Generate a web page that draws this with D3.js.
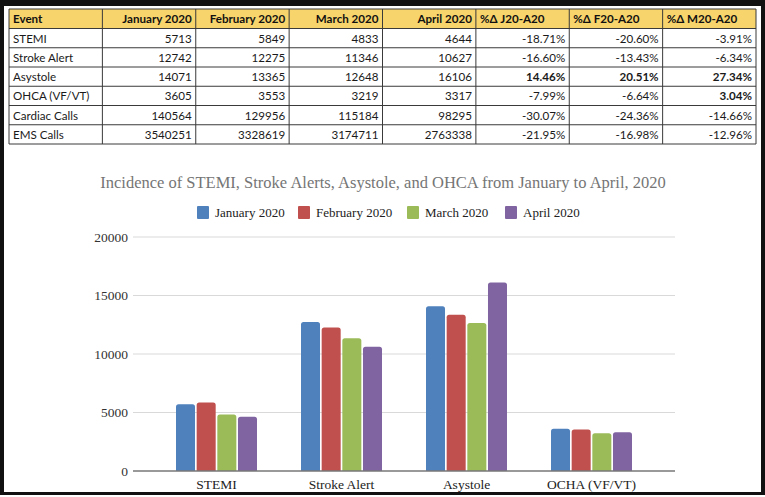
<!DOCTYPE html>
<html>
<head>
<meta charset="utf-8">
<script src="https://cdn.jsdelivr.net/npm/d3@7/dist/d3.min.js"></script>
<style>
  html, body { margin: 0; padding: 0; background: #fff; }
  svg { display: block; }
</style>
</head>
<body>
<svg id="chart" width="765" height="497"></svg>
<script>
// ---------- DATA ----------
const tableHeaders = ["Event", "January 2020", "February 2020", "March 2020", "April 2020", "%\u0394 J20-A20", "%\u0394 F20-A20", "%\u0394 M20-A20"];
const events = ["STEMI", "Stroke Alert", "Asystole", "OHCA (VF/VT)", "Cardiac Calls", "EMS Calls"];
const jan2020 = [5713, 12742, 14071, 3605, 140564, 3540251];
const feb2020 = [5849, 12275, 13365, 3553, 129956, 3328619];
const mar2020 = [4833, 11346, 12648, 3219, 115184, 3174711];
const apr2020 = [4644, 10627, 16106, 3317, 98295, 2763338];
const pctJ20A20 = ["-18.71%", "-16.60%", "14.46%", "-7.99%", "-30.07%", "-21.95%"];
const pctF20A20 = ["-20.60%", "-13.43%", "20.51%", "-6.64%", "-24.36%", "-16.98%"];
const pctM20A20 = ["-3.91%", "-6.34%", "27.34%", "3.04%", "-14.66%", "-12.96%"];

const chartTitle = "Incidence of STEMI, Stroke Alerts, Asystole, and OHCA from January to April, 2020";
const chartCategories = ["STEMI", "Stroke Alert", "Asystole", "OCHA (VF/VT)"];
const seriesNames = ["January 2020", "February 2020", "March 2020", "April 2020"];
const seriesValues = [jan2020.slice(0, 4), feb2020.slice(0, 4), mar2020.slice(0, 4), apr2020.slice(0, 4)];
const seriesColors = ["#4F81BD", "#C0504D", "#9BBB59", "#8064A2"];
const yTicks = [0, 5000, 10000, 15000, 20000];

// ---------- SETUP ----------
const svg = d3.select("#chart");
const W = 765, H = 497;

// outer black frame
svg.append("rect").attr("x", 0).attr("y", 0).attr("width", W).attr("height", 495).attr("fill", "#111");
svg.append("rect").attr("x", 4).attr("y", 6).attr("width", 757).attr("height", 486).attr("fill", "#fff");

// ---------- TABLE ----------
const tLeft = 9, tRight = 756, tTop = 9, headerH = 19.5, rowH = 19.25;
const nCols = tableHeaders.length;
const colX = d3.scaleLinear().domain([0, nCols]).range([tLeft, tRight]);
const rowY = i => tTop + headerH + i * rowH;
const tBottom = rowY(events.length);
const tableFont = "Lato, 'Open Sans', sans-serif";
const tableFontSize = 11.6;

const tbl = svg.append("g");
tbl.append("rect").attr("x", tLeft).attr("y", tTop).attr("width", tRight - tLeft).attr("height", headerH)
  .attr("fill", "#F8D46C");

// header text
const rightAlignedHeader = [false, true, true, true, true, false, false, false];
tbl.selectAll("text.hdr").data(tableHeaders).join("text")
  .attr("class", "hdr")
  .attr("x", (d, i) => rightAlignedHeader[i] ? colX(i + 1) - 4 : colX(i) + 4)
  .attr("y", tTop + headerH / 2 + 4.5)
  .attr("text-anchor", (d, i) => rightAlignedHeader[i] ? "end" : "start")
  .attr("font-family", tableFont).attr("font-weight", "bold").attr("font-size", tableFontSize)
  .attr("fill", "#111")
  .text(d => d);

// body rows
const rows = events.map((e, i) => [e, jan2020[i], feb2020[i], mar2020[i], apr2020[i], pctJ20A20[i], pctF20A20[i], pctM20A20[i]]);
rows.forEach((r, ri) => {
  r.forEach((v, ci) => {
    const isPct = ci >= 5;
    const bold = isPct && !String(v).startsWith("-");
    tbl.append("text")
      .attr("x", ci === 0 ? colX(0) + 4 : colX(ci + 1) - 4)
      .attr("y", rowY(ri) + rowH / 2 + 4.5)
      .attr("text-anchor", ci === 0 ? "start" : "end")
      .attr("font-family", tableFont).attr("font-size", tableFontSize)
      .attr("font-weight", bold ? "bold" : "normal")
      .attr("fill", "#1a1a1a")
      .text(v);
  });
});

// grid lines
const hLines = [tTop, tTop + headerH].concat(events.map((e, i) => rowY(i + 1)));
tbl.selectAll("line.h").data(hLines).join("line")
  .attr("x1", tLeft).attr("x2", tRight).attr("y1", d => d).attr("y2", d => d)
  .attr("stroke", "#3a3a3a").attr("stroke-width", 1);
tbl.selectAll("line.v").data(d3.range(nCols + 1)).join("line")
  .attr("x1", d => colX(d)).attr("x2", d => colX(d)).attr("y1", tTop).attr("y2", tBottom)
  .attr("stroke", "#3a3a3a").attr("stroke-width", 1);

// ---------- CHART ----------
const serif = "'Liberation Serif', 'Times New Roman', serif";
const plotL = 133, plotR = 675, plotTop = 237, plotBottom = 471;

svg.append("text").attr("x", 383).attr("y", 188).attr("text-anchor", "middle")
  .attr("font-family", serif).attr("font-size", 16.5).attr("fill", "#757575").text(chartTitle);

// legend
const legendX = [197, 298, 407, 505];
const lg = svg.append("g");
seriesNames.forEach((s, i) => {
  lg.append("rect").attr("x", legendX[i]).attr("y", 206).attr("width", 12).attr("height", 13)
    .attr("fill", seriesColors[i]).attr("rx", 1);
  lg.append("text").attr("x", legendX[i] + 18).attr("y", 217)
    .attr("font-family", serif).attr("font-size", 13).attr("fill", "#222").text(s);
});

const y = d3.scaleLinear().domain([0, 20000]).range([plotBottom, plotTop]);
const x0 = d3.scaleBand().domain(chartCategories).range([plotL, plotR]).paddingInner(0.352).paddingOuter(0.344);
const x1 = d3.scaleBand().domain(seriesNames).range([0, x0.bandwidth()]).paddingInner(0.08);

// grid
svg.append("g").selectAll("line").data(yTicks.filter(t => t > 0)).join("line")
  .attr("x1", plotL).attr("x2", plotR).attr("y1", d => y(d)).attr("y2", d => y(d))
  .attr("stroke", "#d9d9d9").attr("stroke-width", 1);

// y axis labels
const yAxis = d3.axisLeft(y).tickValues(yTicks).tickSize(0).tickPadding(0).tickFormat(d3.format("d"));
const yg = svg.append("g").attr("transform", `translate(${plotL - 5},0)`).call(yAxis);
yg.select(".domain").remove();
yg.selectAll("text").attr("font-family", serif).attr("font-size", 13.5).attr("fill", "#333");

// bars
const barPath = (bx, by, bw, bh, r) => {
  r = Math.min(r, bw / 2, bh);
  return `M${bx},${by + bh}V${by + r}Q${bx},${by} ${bx + r},${by}H${bx + bw - r}Q${bx + bw},${by} ${bx + bw},${by + r}V${by + bh}Z`;
};
const bars = [];
chartCategories.forEach((c, ci) => {
  seriesNames.forEach((s, si) => {
    bars.push({ c, s, v: seriesValues[si][ci], color: seriesColors[si] });
  });
});
svg.append("g").selectAll("path").data(bars).join("path")
  .attr("d", d => barPath(x0(d.c) + x1(d.s), y(d.v), x1.bandwidth(), y(0) - y(d.v), 2.5))
  .attr("fill", d => d.color);

// baseline
svg.append("line").attr("x1", plotL).attr("x2", plotR).attr("y1", y(0)).attr("y2", y(0))
  .attr("stroke", "#777").attr("stroke-width", 1.5);

// x axis labels
const xAxis = d3.axisBottom(x0).tickSize(0).tickPadding(0);
const xg = svg.append("g").attr("transform", `translate(0,${plotBottom + 8})`).call(xAxis);
xg.select(".domain").remove();
xg.selectAll("text").attr("font-family", serif).attr("font-size", 13.5).attr("fill", "#222");
</script>
</body>
</html>
